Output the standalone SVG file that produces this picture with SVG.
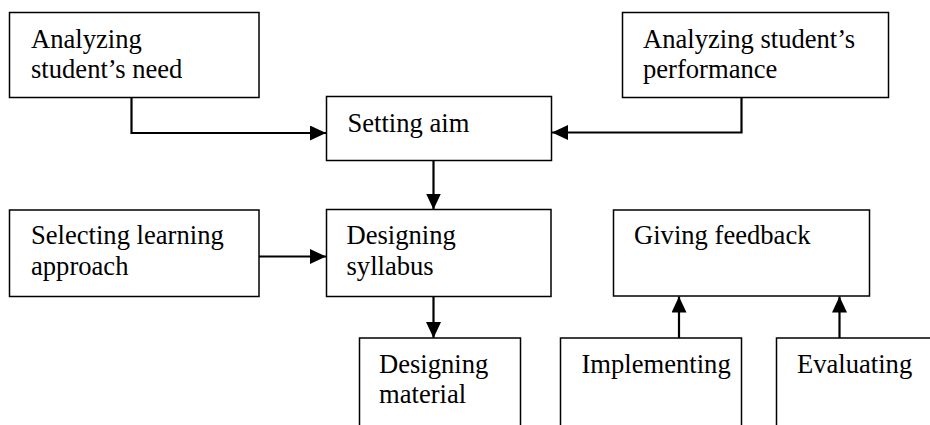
<svg xmlns="http://www.w3.org/2000/svg" width="930" height="425" viewBox="0 0 930 425">
<style>
.box{fill:#fff;stroke:#000;stroke-width:1.5}
.lbl{font-family:"Liberation Serif","Times New Roman",serif;font-size:26.6px;fill:#000}
.con{fill:none;stroke:#000;stroke-width:2.2}
</style>
<defs>
<marker id="ah" markerUnits="userSpaceOnUse" markerWidth="16" markerHeight="15" refX="16" refY="7.5" orient="auto">
<path d="M0,0 L16,7.5 L0,15 Z" fill="#000"/>
</marker>
</defs>
<rect width="930" height="425" fill="#fff"/>
<g id="need">
<rect class="box" x="9.5" y="12.5" width="249.5" height="85"/>
<text class="lbl" x="31" y="48">Analyzing</text>
<text class="lbl" x="31" y="78">student’s need</text>
</g>
<g id="performance">
<rect class="box" x="622.5" y="12.5" width="266" height="85"/>
<text class="lbl" x="643" y="48">Analyzing student’s</text>
<text class="lbl" x="643" y="78">performance</text>
</g>
<g id="aim">
<rect class="box" x="326.5" y="96.5" width="225" height="64"/>
<text class="lbl" x="347.5" y="132">Setting aim</text>
</g>
<g id="approach">
<rect class="box" x="9.5" y="210" width="249.5" height="86.5"/>
<text class="lbl" x="31" y="244">Selecting learning</text>
<text class="lbl" x="31" y="275">approach</text>
</g>
<g id="syllabus">
<rect class="box" x="326.5" y="209.5" width="224.5" height="87"/>
<text class="lbl" x="346.5" y="244">Designing</text>
<text class="lbl" x="346.5" y="275">syllabus</text>
</g>
<g id="feedback">
<rect class="box" x="613.5" y="210" width="256" height="86"/>
<text class="lbl" x="634" y="244">Giving feedback</text>
</g>
<g id="material">
<rect class="box" x="359.5" y="338" width="161" height="110"/>
<text class="lbl" x="379" y="373">Designing</text>
<text class="lbl" x="379" y="403">material</text>
</g>
<g id="implementing">
<rect class="box" x="560.5" y="338" width="181" height="110"/>
<text class="lbl" x="581.5" y="373">Implementing</text>
</g>
<g id="evaluating">
<rect class="box" x="776.5" y="338" width="180" height="110"/>
<text class="lbl" x="797" y="373">Evaluating</text>
</g>
<g id="connectors">
<path class="con" d="M131.5,97.5 V133 H326" marker-end="url(#ah)"/>
<path class="con" d="M741.5,97.5 V132.5 H552" marker-end="url(#ah)"/>
<path class="con" d="M433.5,160.5 V209.5" marker-end="url(#ah)"/>
<path class="con" d="M259,256.5 H326" marker-end="url(#ah)"/>
<path class="con" d="M433.5,296.5 V338" marker-end="url(#ah)"/>
<path class="con" d="M679,338 V296.5" marker-end="url(#ah)"/>
<path class="con" d="M839.5,338 V296.5" marker-end="url(#ah)"/>
</g>
</svg>
